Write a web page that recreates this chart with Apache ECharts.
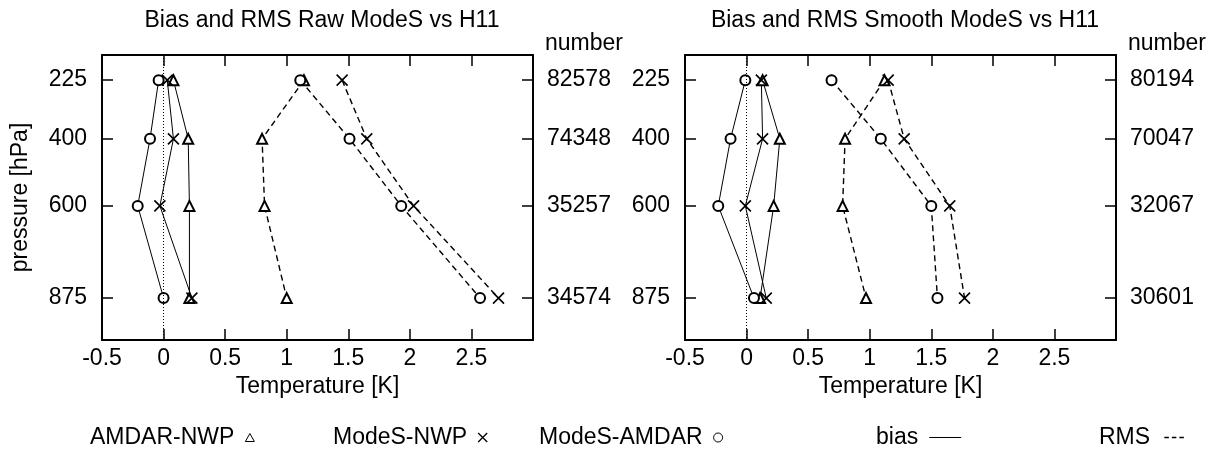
<!DOCTYPE html>
<html>
<head>
    <meta charset="utf-8" />
    <title>Bias and RMS ModeS vs H11</title>
    <script src="https://cdn.jsdelivr.net/npm/echarts@6/dist/echarts.min.js"></script>
    <style>
        body { margin: 0; background: #ffffff; }
        #main { width: 1217px; height: 463px; }
    </style>
</head>
<body>
<div id="main"></div>
<script type="text/javascript">
    // pressure levels [hPa]
    var levels = [225, 400, 600, 875];

    // left panel: Raw ModeS
    var rawBiasAmdarNwp   = [0.08, 0.20, 0.21, 0.21];
    var rawBiasModesNwp   = [0.03, 0.08, -0.03, 0.23];
    var rawBiasModesAmdar = [-0.04, -0.11, -0.21, 0.00];
    var rawRmsAmdarNwp    = [1.14, 0.80, 0.82, 1.00];
    var rawRmsModesNwp    = [1.45, 1.65, 2.03, 2.72];
    var rawRmsModesAmdar  = [1.11, 1.51, 1.93, 2.57];
    var rawCounts = [82578, 74348, 35257, 34574];

    // right panel: Smooth ModeS
    var smoothBiasAmdarNwp   = [0.13, 0.27, 0.22, 0.11];
    var smoothBiasModesNwp   = [0.12, 0.13, -0.01, 0.16];
    var smoothBiasModesAmdar = [-0.01, -0.13, -0.23, 0.06];
    var smoothRmsAmdarNwp    = [1.12, 0.80, 0.78, 0.97];
    var smoothRmsModesNwp    = [1.15, 1.28, 1.65, 1.77];
    var smoothRmsModesAmdar  = [0.69, 1.09, 1.50, 1.55];
    var smoothCounts = [80194, 70047, 32067, 30601];

    var titles = ['Bias and RMS Raw ModeS vs H11', 'Bias and RMS Smooth ModeS vs H11'];

    var FONT = 'Liberation Sans, Arial, sans-serif';
    var FS = 23;
    var crossPath = 'path://M0,0L10,10M10,0L0,10';

    function pairs(vals) {
        return vals.map(function (v, i) { return [v, levels[i]]; });
    }

    function line(name, vals, idx, symbol, dashed) {
        var isCross = symbol === crossPath;
        return {
            name: name,
            type: 'line',
            xAxisIndex: idx * 2,
            yAxisIndex: idx * 2,
            data: pairs(vals),
            symbol: symbol,
            symbolSize: isCross ? 11 : 10,
            showAllSymbol: true,
            silent: true,
            animation: false,
            lineStyle: { color: '#000', width: dashed ? 1.4 : 1, type: dashed ? [6, 4] : 'solid' },
            itemStyle: { color: '#000', borderColor: '#000', borderWidth: isCross ? 1.6 : 1.2 },
            z: 3
        };
    }

    function panel(idx, bA, bM, bMA, rA, rM, rMA) {
        var s = [
            line('AMDAR-NWP', bA, idx, 'emptyTriangle', false),
            line('ModeS-NWP', bM, idx, crossPath, false),
            line('ModeS-AMDAR', bMA, idx, 'emptyCircle', false),
            line('AMDAR-NWP', rA, idx, 'emptyTriangle', true),
            line('ModeS-NWP', rM, idx, crossPath, true),
            line('ModeS-AMDAR', rMA, idx, 'emptyCircle', true)
        ];
        // dotted zero line
        s[0].markLine = {
            silent: true,
            symbol: 'none',
            label: { show: false },
            lineStyle: { color: '#000', type: [1, 2], width: 1 },
            data: [{ xAxis: 0 }],
            animation: false
        };
        return s;
    }

    var grids = [
        { left: 102, top: 55, width: 431, height: 285 },
        { left: 685, top: 55, width: 431, height: 285 }
    ];

    var txt = { fontFamily: FONT, fontSize: FS, color: '#000' };
    var axisLine = { show: true, onZero: false, lineStyle: { color: '#000', width: 2 } };

    var xAxes = [], yAxes = [];
    [0, 1].forEach(function (i) {
        var counts = i === 0 ? rawCounts : smoothCounts;
        xAxes.push({
            type: 'value', gridIndex: i, position: 'bottom',
            min: -0.5, max: 3, interval: 0.5,
            name: 'Temperature [K]', nameLocation: 'middle', nameGap: 31,
            nameTextStyle: txt,
            axisLine: axisLine,
            axisTick: { show: true, inside: true, length: 11, lineStyle: { color: '#000', width: 1.5 } },
            axisLabel: {
                fontFamily: FONT, fontSize: FS, color: '#000', margin: 7,
                formatter: function (v) { return v >= 3 ? '' : String(v); }
            },
            splitLine: { show: false }
        });
        xAxes.push({
            type: 'value', gridIndex: i, position: 'top',
            min: -0.5, max: 3, interval: 0.5,
            axisLine: axisLine,
            axisTick: { show: true, inside: true, length: 11, lineStyle: { color: '#000', width: 1.5 } },
            axisLabel: { show: false },
            splitLine: { show: false }
        });
        yAxes.push({
            type: 'value', gridIndex: i, position: 'left', inverse: true,
            min: 150, max: 1000,
            name: i === 0 ? 'pressure [hPa]' : '',
            nameLocation: 'middle', nameGap: 70, nameRotate: 90,
            nameTextStyle: txt,
            axisLine: axisLine,
            axisTick: { show: true, inside: true, length: 11, customValues: levels, lineStyle: { color: '#000', width: 1.5 } },
            axisLabel: { fontFamily: FONT, fontSize: FS, color: '#000', margin: 15, customValues: levels },
            splitLine: { show: false }
        });
        yAxes.push({
            type: 'value', gridIndex: i, position: 'right', inverse: true,
            min: 150, max: 1000,
            name: 'number', nameLocation: 'start', nameGap: 0,
            nameTextStyle: { fontFamily: FONT, fontSize: FS, color: '#000', align: 'left', verticalAlign: 'bottom', padding: [0, 0, 0, 12] },
            axisLine: axisLine,
            axisTick: { show: true, inside: true, length: 11, customValues: levels, lineStyle: { color: '#000', width: 1.5 } },
            axisLabel: {
                fontFamily: FONT, fontSize: FS, color: '#000', margin: 14, customValues: levels,
                formatter: function (v) {
                    var k = levels.indexOf(v);
                    return k < 0 ? '' : String(counts[k]);
                }
            },
            splitLine: { show: false }
        });
    });

    var series = []
        .concat(panel(0, rawBiasAmdarNwp, rawBiasModesNwp, rawBiasModesAmdar,
                      rawRmsAmdarNwp, rawRmsModesNwp, rawRmsModesAmdar))
        .concat(panel(1, smoothBiasAmdarNwp, smoothBiasModesNwp, smoothBiasModesAmdar,
                      smoothRmsAmdarNwp, smoothRmsModesNwp, smoothRmsModesAmdar));
    // legend-only entries
    series.push({ name: 'bias', type: 'line', data: [], xAxisIndex: 0, yAxisIndex: 0 });
    series.push({ name: 'RMS', type: 'line', data: [], xAxisIndex: 0, yAxisIndex: 0 });

    function legendItem(name, left, icon, w, h, style) {
        return {
            left: left, top: 421, align: 'right', selectedMode: false,
            itemWidth: w, itemHeight: h,
            textStyle: { fontFamily: FONT, fontSize: FS, color: '#000', padding: [0, 6, 0, 0] },
            data: [{ name: name, icon: icon, itemStyle: style }]
        };
    }
    var hollow = { color: '#fff', borderColor: '#000', borderWidth: 1 };

    var option = {
        backgroundColor: '#fff',
        animation: false,
        title: [
            { text: titles[0], left: 317, top: 4, textAlign: 'center',
              textStyle: { fontFamily: FONT, fontSize: FS, fontWeight: 'normal', color: '#000' } },
            { text: titles[1], left: 900, top: 4, textAlign: 'center',
              textStyle: { fontFamily: FONT, fontSize: FS, fontWeight: 'normal', color: '#000' } }
        ],
        grid: grids,
        xAxis: xAxes,
        yAxis: yAxes,
        legend: [
            legendItem('AMDAR-NWP', 85, 'triangle', 9, 8, hollow),
            legendItem('ModeS-NWP', 328, crossPath, 9, 9, { color: '#000', borderColor: '#000', borderWidth: 1.3 }),
            legendItem('ModeS-AMDAR', 534, 'circle', 9, 9, hollow),
            legendItem('bias', 871, 'rect', 32, 1, { color: '#000' }),
            legendItem('RMS', 1094, 'path://M0,0h6v2h-6zM10,0h6v2h-6zM20,0h6v2h-6z', 26, 1.5, { color: '#000' })
        ],
        series: series
    };

    var myChart = echarts.init(document.getElementById('main'));
    myChart.setOption(option);
</script>
</body>
</html>
